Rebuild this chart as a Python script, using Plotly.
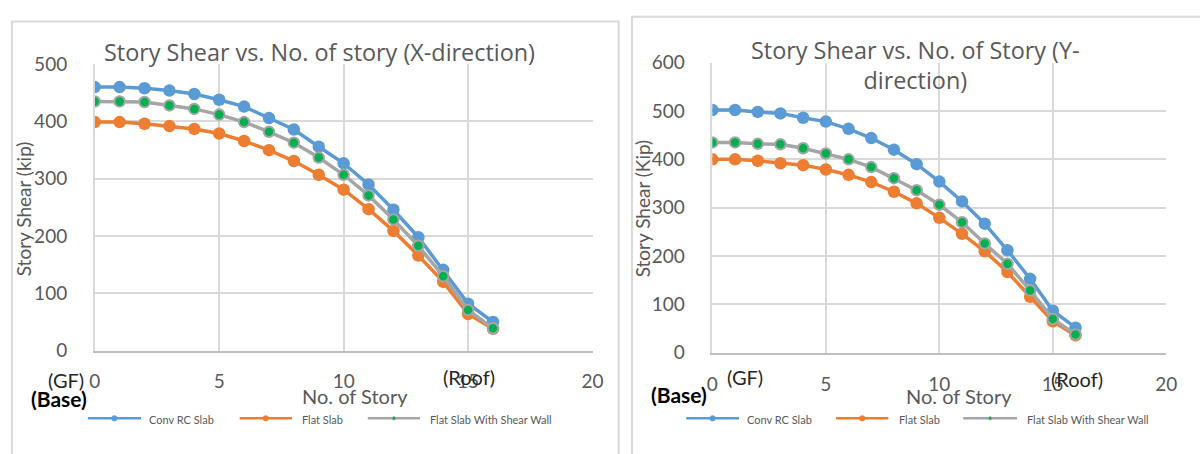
import plotly.graph_objects as go

# ---------------- data ----------------
stories = list(range(17))
conv_x = [460, 460, 458, 454, 448, 438, 426, 406, 386, 356, 327, 290, 246, 198, 141, 82, 50]
flat_x = [399, 399, 396, 392, 387, 379, 366, 350, 331, 307, 281, 247, 209, 166, 120, 64, 38]
wall_x = [435, 435, 434, 428, 422, 412, 399, 382, 363, 337, 307, 271, 229, 183, 130, 71, 39]

conv_y = [502, 502, 498, 495, 486, 478, 463, 444, 420, 390, 354, 313, 267, 212, 153, 87, 52]
flat_y = [400, 400, 397, 392, 388, 379, 368, 353, 333, 309, 279, 246, 210, 167, 116, 65, 36]
wall_y = [435, 435, 432, 431, 423, 412, 400, 384, 361, 336, 306, 270, 226, 184, 129, 70, 38]

series_names = ["Conv RC Slab", "Flat Slab", "Flat Slab With Shear Wall"]
title_x = "Story Shear vs. No. of story (X-direction)"
title_y = "Story Shear vs. No. of Story (Y-<br>direction)"

W, H = 1200, 454
BLUE, ORANGE, GRAY, GREEN = "#5b9bd5", "#ed7d31", "#a5a5a5", "#00b050"
TXT = "#595959"
FONT = "Lato"
TFONT = "Open Sans"


def px(x):
    return x / W


def py(y):
    return 1 - y / H


fig = go.Figure()


def add_series(xa, ya, conv, flat, wall):
    fig.add_trace(go.Scatter(x=stories, y=conv, mode="lines+markers", xaxis=xa, yaxis=ya,
                             line=dict(color=BLUE, width=3.5),
                             marker=dict(size=12.5, color=BLUE), showlegend=False,
                             name=series_names[0]))
    fig.add_trace(go.Scatter(x=stories, y=flat, mode="lines+markers", xaxis=xa, yaxis=ya,
                             line=dict(color=ORANGE, width=3.5),
                             marker=dict(size=12.5, color=ORANGE), showlegend=False,
                             name=series_names[1]))
    fig.add_trace(go.Scatter(x=stories, y=wall, mode="lines+markers", xaxis=xa, yaxis=ya,
                             line=dict(color=GRAY, width=3.5),
                             marker=dict(size=10.5, color=GREEN, line=dict(color=GRAY, width=2)),
                             showlegend=False, name=series_names[2]))


add_series("x", "y", conv_x, flat_x, wall_x)
add_series("x2", "y2", conv_y, flat_y, wall_y)

axis_common = dict(showgrid=True, gridcolor="#d9d9d9", gridwidth=1.5, zeroline=False,
                   ticks="", tickfont=dict(family=FONT, size=19, color=TXT))

fig.update_layout(
    width=W, height=H, margin=dict(l=0, r=0, t=0, b=0),
    paper_bgcolor="white", plot_bgcolor="white",
    font=dict(family=FONT, color=TXT),
    xaxis=dict(domain=[px(90), px(595)], range=[0, 20], dtick=5, anchor="y",
               showline=True, linecolor="#bfbfbf", linewidth=1.5, ticklabelstandoff=13,
               **axis_common),
    yaxis=dict(domain=[py(356.7), py(55)], range=[0, 500], dtick=100, anchor="x",
               showline=True, linecolor="#d9d9d9", linewidth=1.5,
               ticklabelstandoff=22, **axis_common),
    xaxis2=dict(domain=[px(716.5), px(1177)], range=[0, 20], dtick=5, anchor="y2",
                showline=True, linecolor="#bfbfbf", linewidth=1.5, ticklabelstandoff=14,
                **axis_common),
    yaxis2=dict(domain=[py(359), py(53.3)], range=[0, 600], dtick=100, anchor="x2",
                showline=True, linecolor="#d9d9d9", linewidth=1.5,
                ticklabelstandoff=22, **axis_common),
)

shapes = []
# chart frames
shapes.append(dict(type="rect", xref="paper", yref="paper", x0=px(6), x1=px(621.5),
                   y0=py(470), y1=py(10), line=dict(color="#d9d9d9", width=2), layer="below"))
shapes.append(dict(type="rect", xref="paper", yref="paper", x0=px(635), x1=px(1220),
                   y0=py(470), y1=py(5), line=dict(color="#d9d9d9", width=2), layer="below"))

annotations = []


def ann(text, x, y, size, color=TXT, bold=False, angle=0, xanchor="center", family=FONT):
    annotations.append(dict(text=("<b>%s</b>" % text) if bold else text,
                            x=px(x), y=py(y), xref="paper", yref="paper",
                            xanchor=xanchor, yanchor="middle", showarrow=False, textangle=angle,
                            font=dict(family=family, size=size, color=color)))


# titles
ann(title_x, 318, 42.5, 23.4, family=TFONT)
annotations.append(dict(text=title_y, x=px(923), y=py(55.5), xref="paper", yref="paper",
                        xanchor="center", yanchor="middle", showarrow=False,
                        font=dict(family=TFONT, size=23.4, color=TXT)))
# axis titles
ann("Story Shear (kip)", 18, 207, 19, angle=-90)
ann("Story Shear (Kip)", 646, 207, 19, angle=-90)
ann("No. of Story", 354, 404, 20)
ann("No. of Story", 967, 405, 20)
# story markers
ann("(GF)", 61, 388, 20, color="#262626")
ann("(Base)", 54, 407, 21, color="#000000", bold=True)
ann("(Roof)", 470, 384, 20, color="#262626")
ann("(GF)", 750, 385, 20, color="#262626")
ann("(Base)", 683, 403, 21, color="#000000", bold=True)
ann("(Roof)", 1086, 387, 20, color="#262626")

# custom legends
legend_rows = [
    # (line x0, line x1, text x, y)
    [(83, 137, 143.5, 428), (237, 290, 298, 428), (367, 420, 428, 428)],
    [(690, 743.5, 750, 428), (842, 895, 903.5, 428), (971, 1025.5, 1033.5, 428)],
]
for row in legend_rows:
    for (x0, x1, tx, y), name, col in zip(row, series_names, [BLUE, ORANGE, GRAY]):
        shapes.append(dict(type="line", xref="paper", yref="paper", x0=px(x0), x1=px(x1),
                           y0=py(y), y1=py(y), line=dict(color=col, width=2.5)))
        cx = (x0 + x1) / 2
        r = 2.8
        fill = GREEN if col == GRAY else col
        rr = 1.8 if col == GRAY else r
        shapes.append(dict(type="circle", xref="paper", yref="paper",
                           x0=px(cx - rr), x1=px(cx + rr), y0=py(y + rr), y1=py(y - rr),
                           fillcolor=fill, line=dict(color=col, width=0.8)))
        ann(name, tx, y + 1, 11, xanchor="left")

fig.update_layout(shapes=shapes, annotations=annotations)

fig.write_html("out.html")
